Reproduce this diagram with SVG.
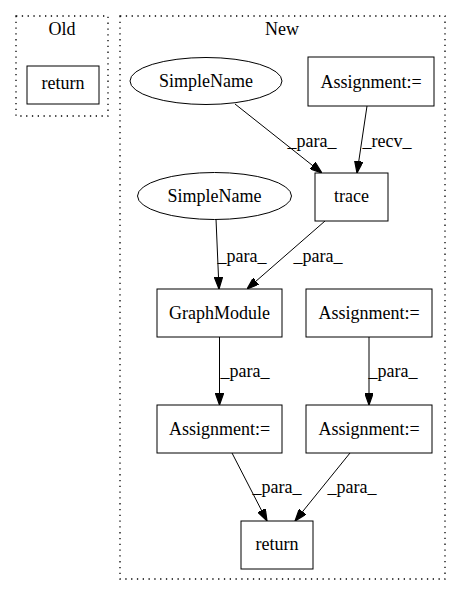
<svg xmlns="http://www.w3.org/2000/svg" width="461" height="596" viewBox="0 0 461 596">
  <style>
    .lbl { font-family: 'Liberation Serif', 'DejaVu Serif', serif; font-size: 18px; fill: #000; text-anchor: middle; }
    .cluster { fill: none; stroke: #000; stroke-width: 1.3; stroke-dasharray: 1.3 4.5; }
    .node { fill: #fff; stroke: #000; stroke-width: 1; }
    .edge { fill: none; stroke: #000; stroke-width: 1; marker-end: url(#arrow); }
  </style>
  <defs>
    <marker id="arrow" viewBox="0 0 10 7" refX="10" refY="3.5" markerUnits="userSpaceOnUse" markerWidth="12" markerHeight="8.4" orient="auto">
      <path d="M0,0 L10,3.5 L0,7 z" fill="#000" stroke="#000" stroke-width="1"/>
    </marker>
  </defs>
  <rect width="461" height="596" fill="#fff"/>

  <!-- clusters -->
  <g id="cluster_old">
    <rect class="cluster" x="16" y="16" width="92" height="100"/>
    <text class="lbl" x="62" y="35">Old</text>
  </g>
  <g id="cluster_new">
    <rect class="cluster" x="120" y="16" width="325" height="563"/>
    <text class="lbl" x="282" y="35">New</text>
  </g>

  <!-- connectors -->
  <g id="edges">
    <path class="edge" d="M235,104 L322,173"/>
    <text class="lbl" x="312" y="147">_para_</text>
    <path class="edge" d="M367,106 L357,173"/>
    <text class="lbl" x="387" y="147">_recv_</text>
    <path class="edge" d="M216,219 L219,289"/>
    <text class="lbl" x="242" y="262">_para_</text>
    <path class="edge" d="M325,221 L247,289"/>
    <text class="lbl" x="318" y="262">_para_</text>
    <path class="edge" d="M219.5,337 L219.5,405"/>
    <text class="lbl" x="245" y="377">_para_</text>
    <path class="edge" d="M369,337 L369,405"/>
    <text class="lbl" x="393" y="377">_para_</text>
    <path class="edge" d="M232,453 L267,521"/>
    <text class="lbl" x="277" y="493">_para_</text>
    <path class="edge" d="M350,453 L295,521"/>
    <text class="lbl" x="352" y="493">_para_</text>
  </g>

  <!-- nodes -->
  <g id="old_return">
    <rect class="node" x="27" y="66" width="72" height="38"/>
    <text class="lbl" x="63" y="89">return</text>
  </g>
  <g id="simplename_1">
    <ellipse class="node" cx="206" cy="81" rx="76" ry="23.5"/>
    <text class="lbl" x="206" y="87">SimpleName</text>
  </g>
  <g id="assignment_top">
    <rect class="node" x="308" y="57" width="126" height="49"/>
    <text class="lbl" x="371" y="87.5">Assignment:=</text>
  </g>
  <g id="trace">
    <rect class="node" x="315" y="173" width="73" height="48"/>
    <text class="lbl" x="351.5" y="202">trace</text>
  </g>
  <g id="simplename_2">
    <ellipse class="node" cx="214.5" cy="196" rx="77" ry="23.5"/>
    <text class="lbl" x="214.5" y="202">SimpleName</text>
  </g>
  <g id="graphmodule">
    <rect class="node" x="157" y="289" width="125" height="48"/>
    <text class="lbl" x="219.5" y="318.5">GraphModule</text>
  </g>
  <g id="assignment_mid">
    <rect class="node" x="306" y="289" width="126" height="48"/>
    <text class="lbl" x="369" y="318.5">Assignment:=</text>
  </g>
  <g id="assignment_left">
    <rect class="node" x="157" y="405" width="125" height="48"/>
    <text class="lbl" x="219.5" y="434.5">Assignment:=</text>
  </g>
  <g id="assignment_right">
    <rect class="node" x="306" y="405" width="126" height="48"/>
    <text class="lbl" x="369" y="434.5">Assignment:=</text>
  </g>
  <g id="new_return">
    <rect class="node" x="241" y="521" width="72" height="48"/>
    <text class="lbl" x="277" y="550">return</text>
  </g>
</svg>
